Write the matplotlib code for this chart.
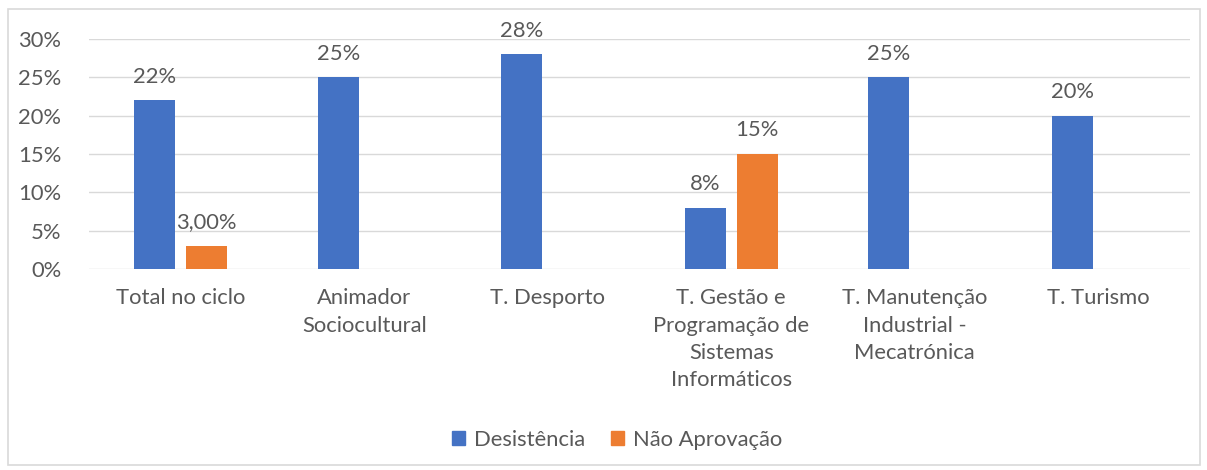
import matplotlib
matplotlib.use("Agg")
import matplotlib.pyplot as plt
import numpy as np
from matplotlib.patches import Rectangle
from matplotlib.ticker import PercentFormatter

categories = ["Total no ciclo", "Animador\nSociocultural", "T. Desporto",
              "T. Gestão e\nProgramação de\nSistemas\nInformáticos",
              "T. Manutenção\nIndustrial -\nMecatrónica", "T. Turismo"]
desistencia = [0.22, 0.25, 0.28, 0.08, 0.25, 0.20]
desist_labels = ["22%", "25%", "28%", "8%", "25%", "20%"]
nao_aprovacao = [0.03, None, None, 0.15, None, None]
nao_labels = ["3,00%", "", "", "15%", "", ""]
series_names = ["Desistência", "Não Aprovação"]

W, H = 1207, 470
fig = plt.figure(figsize=(W / 100, H / 100), dpi=100)
plt.rcParams['font.family'] = ['Lato', 'DejaVu Sans']
txt = '#595959'
fs = 15.8

fig.patches.append(Rectangle((8 / W, 5 / H), 1192 / W, 456 / H, transform=fig.transFigure,
                             fill=False, edgecolor='#D9D9D9', linewidth=1.2))

ax = fig.add_axes([89 / W, (H - 269) / H, (1190 - 89) / W, (269 - 39) / H])
x = np.arange(len(categories))
bw = 0.224
off = 0.142
for i, v in enumerate(desistencia):
    ax.bar(x[i] - off, v, bw, color='#4472C4', zorder=3)
    ax.text(x[i] - off, v + 0.018, desist_labels[i], ha='center', va='bottom',
            color=txt, fontsize=fs)
for i, v in enumerate(nao_aprovacao):
    if v is not None:
        ax.bar(x[i] + off, v, bw, color='#ED7D31', zorder=3)
        ax.text(x[i] + off, v + 0.018, nao_labels[i], ha='center', va='bottom',
                color=txt, fontsize=fs)

ax.set_xlim(-0.5, len(categories) - 0.5)
ax.set_ylim(0, 0.30)
ax.set_yticks(np.arange(0, 0.31, 0.05))
ax.yaxis.set_major_formatter(PercentFormatter(1.0, decimals=0))
ax.grid(axis='y', color='#D9D9D9', linewidth=1, zorder=0)
for s in ax.spines.values():
    s.set_visible(False)
ax.tick_params(axis='y', length=0, pad=20, labelsize=fs, labelcolor=txt)
ax.set_xticks(x)
ax.set_xticklabels(categories, fontsize=fs, color=txt, linespacing=1.45, va='top')
ax.tick_params(axis='x', length=0, pad=14)

handles = [Rectangle((0, 0), 1, 1, color='#4472C4'), Rectangle((0, 0), 1, 1, color='#ED7D31')]
fig.legend(handles, series_names, loc='center', bbox_to_anchor=(617 / W, (H - 440) / H),
           ncol=2, frameon=False, fontsize=fs, labelcolor=txt, handlelength=0.62,
           handleheight=0.62, handletextpad=0.4, columnspacing=1.15)

fig.savefig("out.png", dpi=100)
